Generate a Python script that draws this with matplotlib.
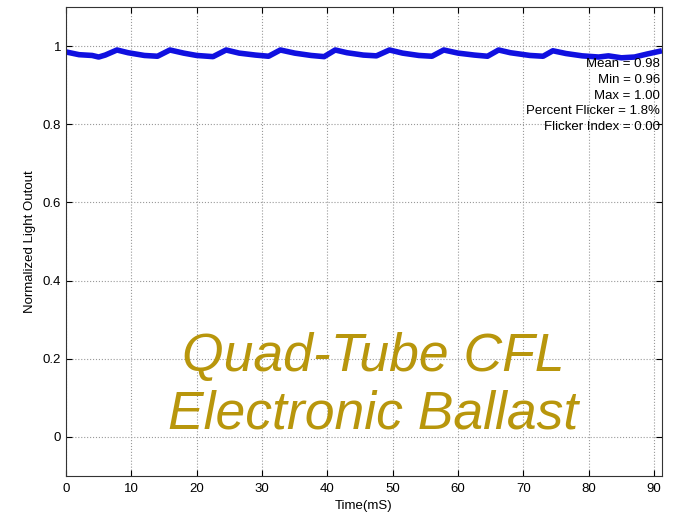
import matplotlib
matplotlib.use("Agg")
import matplotlib.pyplot as plt

plt.rcParams['font.family'] = ['Liberation Sans', 'DejaVu Sans']

# Light output trace (time in ms, normalized output)
time_ms = [0, 2, 4, 5, 6, 7.8, 9.5, 12, 14, 15.9, 18, 20, 22.5, 24.5, 26.5, 29, 31,
           32.8, 35, 37.5, 39.5, 41.2, 43, 45.5, 47.5, 49.5, 51.5, 54, 56, 57.8,
           60, 62.5, 64.5, 66.2, 68, 71, 73, 74.5, 76.5, 79, 81.5, 83, 85, 87, 89, 91.2]
light = [0.985, 0.978, 0.976, 0.972, 0.977, 0.990, 0.983, 0.976, 0.974, 0.990,
         0.982, 0.976, 0.973, 0.990, 0.982, 0.977, 0.974, 0.990, 0.982, 0.976,
         0.973, 0.990, 0.983, 0.977, 0.975, 0.990, 0.982, 0.976, 0.974, 0.990,
         0.982, 0.977, 0.974, 0.990, 0.983, 0.976, 0.974, 0.988, 0.981, 0.975,
         0.972, 0.975, 0.970, 0.972, 0.980, 0.988]

stats = ["Mean = 0.98", "Min = 0.96", "Max = 1.00",
         "Percent Flicker = 1.8%", "Flicker Index = 0.00"]
x_ticks = [0, 10, 20, 30, 40, 50, 60, 70, 80, 90]
y_ticks = [0, 0.2, 0.4, 0.6, 0.8, 1]
y_tick_labels = ["0", "0.2", "0.4", "0.6", "0.8", "1"]

fig = plt.figure(figsize=(6.8, 5.15), dpi=100)
ax = fig.add_axes([66/680, 1 - 476/515, (662-66)/680, (476-7)/515])

ax.plot(time_ms, light, color='#1010E0', linewidth=4.0, solid_capstyle='butt')

ax.set_xlim(0, 91.2)
ax.set_ylim(-0.1, 1.1)
ax.set_xticks(x_ticks)
ax.set_yticks(y_ticks)
ax.set_yticklabels(y_tick_labels)
ax.tick_params(direction='in', labelsize=9.5, length=4, top=True, right=True,
               labeltop=False, labelright=False)
ax.tick_params(axis='x', pad=5)
ax.grid(True, linestyle=':', color='#999999', linewidth=0.8)
for s in ax.spines.values():
    s.set_color('#333333')
    s.set_linewidth(0.8)

ax.set_xlabel("Time(mS)", fontsize=9.5, labelpad=4)
ax.set_ylabel("Normalized Light Outout", fontsize=9.5)
ax.yaxis.set_label_coords(-0.05, 0.5)

for i, s in enumerate(stats):
    ax.text(0.997, 0.878 - i * 0.0335, s, transform=ax.transAxes,
            ha='right', va='center', fontsize=9.5)

ax.text(0.515, 0.192, "Quad-Tube CFL\nElectronic Ballast", transform=ax.transAxes,
        ha='center', va='center', fontsize=38.5, style='italic', color='#B8960C',
        linespacing=1.2)

fig.savefig("out.png", dpi=100)
